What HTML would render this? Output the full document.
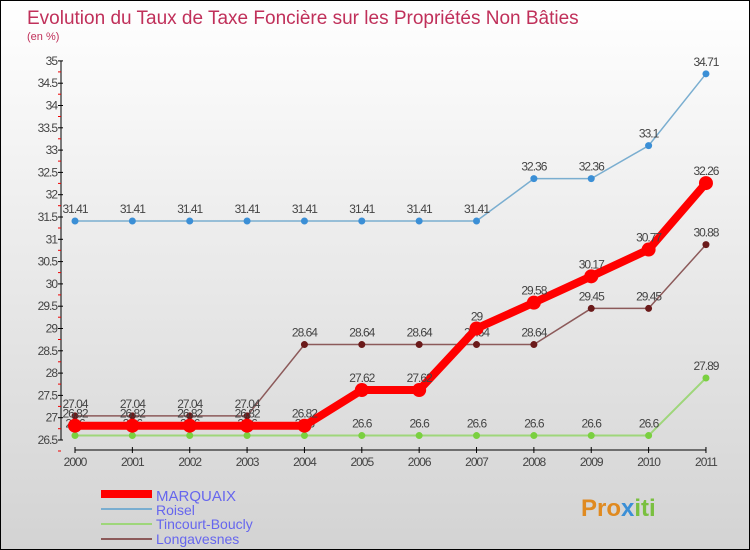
<!DOCTYPE html>
<html><head><meta charset="utf-8"><style>
body{margin:0}
#c{width:750px;height:550px;position:relative;box-sizing:border-box;border:1px solid #000;background:linear-gradient(#ffffff,#d3d3d3);font-family:"Liberation Sans",sans-serif;overflow:hidden}
</style></head><body>
<div id="c">
<svg id="s" width="748" height="548" xmlns="http://www.w3.org/2000/svg">
<text x="26" y="23" font-size="19" fill="#c0305a">Evolution du Taux de Taxe Foncière sur les Propriétés Non Bâties</text>
<text x="26" y="39" font-size="11" fill="#c0305a">(en %)</text>
<g id="ax"></g><g id="series"></g>
<g>
<rect x="100" y="489" width="51" height="8" fill="#f00"/>
<text x="155" y="500" font-size="15" fill="#6666ee">MARQUAIX</text>
<rect x="100" y="507" width="51" height="2" fill="#7aaed0"/>
<text x="155" y="514" font-size="14" fill="#6666ee">Roisel</text>
<rect x="100" y="522" width="51" height="2" fill="#9ed67a"/>
<text x="155" y="528" font-size="14" fill="#6666ee">Tincourt-Boucly</text>
<rect x="100" y="537" width="51" height="2" fill="#8c5a5a"/>
<text x="155" y="543" font-size="14" fill="#6666ee">Longavesnes</text>
</g>
<text x="580" y="515" font-size="24" font-weight="bold" fill="#e08a20">Pro<tspan fill="#3b8fd6">x</tspan><tspan fill="#7ac040">iti</tspan></text>
</svg></div>
<script>
const years=[2000,2001,2002,2003,2004,2005,2006,2007,2008,2009,2010,2011];
const yTicks=[26.5,27,27.5,28,28.5,29,29.5,30,30.5,31,31.5,32,32.5,33,33.5,34,34.5,35];
const marquaix=[26.82,26.82,26.82,26.82,26.82,27.62,27.62,29,29.58,30.17,30.77,32.26];
const roisel=[31.41,31.41,31.41,31.41,31.41,31.41,31.41,31.41,32.36,32.36,33.1,34.71];
const tincourt=[26.6,26.6,26.6,26.6,26.6,26.6,26.6,26.6,26.6,26.6,26.6,27.89];
const longavesnes=[27.04,27.04,27.04,27.04,28.64,28.64,28.64,28.64,28.64,29.45,29.45,30.88];
const NS="http://www.w3.org/2000/svg";
const X=i=>74+i*57.36, Y=v=>439-(v-26.5)*44.6;
function mk(t,a,p){const e=document.createElementNS(NS,t);for(const k in a)e.setAttribute(k,a[k]);p.appendChild(e);return e;}
const ax=document.getElementById('ax');
mk('line',{x1:60,y1:Y(35),x2:60,y2:Y(26.5),stroke:'#000'},ax);
mk('line',{x1:X(0),y1:449,x2:X(11),y2:449,stroke:'#000'},ax);
yTicks.forEach(v=>{
 mk('line',{x1:57,y1:Y(v),x2:62,y2:Y(v),stroke:'#000'},ax);
 mk('line',{x1:57,y1:Y(v)+11,x2:60,y2:Y(v)+11,stroke:'#e00'},ax);
 const t=mk('text',{x:56,y:Y(v)+4,'font-size':12,fill:'#444','text-anchor':'end','letter-spacing':'-1'},ax);
 
 
 t.textContent=v;
});
years.forEach((y,i)=>{
 mk('line',{x1:X(i),y1:446,x2:X(i),y2:452,stroke:'#000'},ax);
 const t=mk('text',{x:X(i),y:465,'font-size':12,fill:'#444','text-anchor':'middle','letter-spacing':'-1'},ax);
 
 
 t.textContent=y;
});
const sg=document.getElementById('series');
function draw(name,vals,col,w,r,dot){
 const g=mk('g',{},sg);
 
 
 mk('polyline',{points:vals.map((v,i)=>X(i)+','+Y(v)).join(' '),fill:'none',stroke:col,'stroke-width':w},g);
 vals.forEach((v,i)=>{
  const c=mk('circle',{cx:X(i),cy:Y(v),r:r,fill:dot},g);
  
  
  const t=mk('text',{x:X(i),y:Y(v)-8,'font-size':12,fill:'#444','text-anchor':'middle','letter-spacing':'-1'},g);
  t.textContent=v;
 });
}
draw('roisel',roisel,'#7aaed0',1.5,3.5,'#3b8fd6');
draw('tincourt',tincourt,'#9ed67a',2,3.5,'#7ad040');
draw('longavesnes',longavesnes,'#8c5a5a',1.5,3.5,'#6b1a1a');
draw('marquaix',marquaix,'#f00',8,7,'#f00');
</script>
</body></html>
